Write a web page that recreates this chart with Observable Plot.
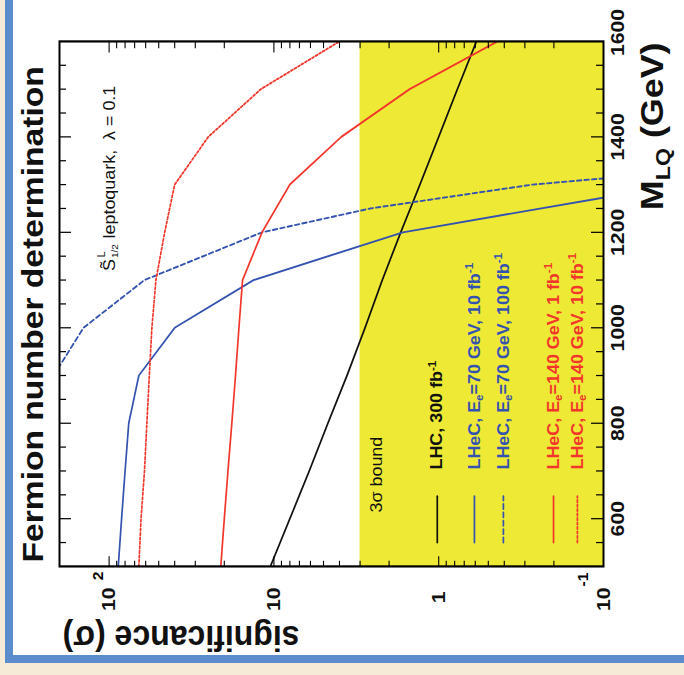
<!DOCTYPE html>
<html><head><meta charset="utf-8">
<script src="https://cdn.jsdelivr.net/npm/d3@7"></script>
<script src="https://cdn.jsdelivr.net/npm/@observablehq/plot@0.6"></script>
<style>
html,body{margin:0;padding:0;width:684px;height:675px;overflow:hidden;background:#f5ebd7;}
#panel{position:absolute;left:5px;top:-20px;width:700px;height:683px;box-sizing:border-box;background:#fff;border-left:8px solid #5b8ccb;border-bottom:8px solid #5b8ccb;}
#chart{position:absolute;left:0;top:0;width:603px;height:684px;transform-origin:0 0;transform:translate(0px,675px) rotate(-90deg) scale(1.1194,1);}
</style></head><body>
<div id="panel"></div>
<div id="chart"></div>
<script>
// ---- data (M_LQ in GeV, significance in sigma) ----
const massLHC   = [500, 600, 700, 800, 900, 1000, 1100, 1200, 1300, 1400, 1500, 1600];
const sigLHC    = [10.5, 8.0, 6.1, 4.7, 3.6, 2.8, 2.2, 1.7, 1.3, 1.0, 0.77, 0.59];
const massE70L10  = [500, 600, 700, 800, 900, 1000, 1100, 1200, 1300];
const sigE70L10   = [88, 84, 80, 76, 66, 40, 13.3, 1.65, 0.035];
const massE70L100 = [900, 1000, 1100, 1200, 1250, 1300, 1325];
const sigE70L100  = [217, 143, 61, 11.8, 2.6, 0.27, 0.04];
const massE140L1  = [500, 600, 700, 800, 900, 1000, 1100, 1200, 1300, 1400, 1500, 1600];
const sigE140L1   = [21, 20, 19, 18, 17.1, 16.3, 15.5, 11.8, 8.0, 3.9, 1.5, 0.44];
const massE140L10 = [500, 600, 700, 800, 900, 1000, 1100, 1200, 1300, 1400, 1500, 1600];
const sigE140L10  = [66, 64, 61, 59, 57, 55, 52, 46, 40, 25, 12, 4.0];
const bound = 3; // 3 sigma bound
const seriesLabels = ["LHC, 300 fb^{-1}", "LHeC, E_{e}=70 GeV, 10 fb^{-1}", "LHeC, E_{e}=70 GeV, 100 fb^{-1}",
                      "LHeC, E_{e}=140 GeV, 1 fb^{-1}", "LHeC, E_{e}=140 GeV, 10 fb^{-1}"];
const xTickLabels = [600, 800, 1000, 1200, 1400, 1600];
const yTickValues = [100, 10, 1, 0.1];

// ---- styles / layout ----
const black = "#111", blue = "#3452b0", red = "#f2362c", yellow = "#ede935";
const styles = [
  {stroke: black, dash: null}, {stroke: blue, dash: null}, {stroke: blue, dash: "4.5,3"},
  {stroke: red, dash: null}, {stroke: red, dash: "2,2"}
];
const masses = [massLHC, massE70L10, massE70L100, massE140L1, massE140L10];
const sigs = [sigLHC, sigE70L10, sigE70L100, sigE140L1, sigE140L10];
const legendY = [1.02, 0.607, 0.405, 0.201, 0.144];

const W = 603, H = 684, mL = 96.5, mR = 37.5, mT = 59, mB = 81;
const fw = W - mL - mR, fh = H - mT - mB;
const font = "'Liberation Sans', Arial, Helvetica, sans-serif";

const marks = [];
marks.push(Plot.rect([bound], {x1: () => 500, x2: () => 1600, y1: () => 0.1, y2: d => d, fill: yellow}));
masses.forEach((ms, k) => {
  const rows = ms.map((m, i) => ({M: m, s: sigs[k][i]}));
  marks.push(Plot.line(rows, {x: "M", y: "s", stroke: styles[k].stroke, strokeWidth: 1.7,
    strokeDasharray: styles[k].dash, clip: true}));
  marks.push(Plot.line([{M: 550, s: legendY[k]}, {M: 647, s: legendY[k]}], {x: "M", y: "s",
    stroke: styles[k].stroke, strokeWidth: 1.7, strokeDasharray: styles[k].dash}));
  marks.push(Plot.text([seriesLabels[k]], {x: () => 703, y: () => legendY[k], text: d => d,
    textAnchor: "start", lineAnchor: "middle", fill: styles[k].stroke, fontSize: 16, fontWeight: "bold"}));
});
marks.push(Plot.text(["3σ bound"], {x: () => 613, y: () => 2.37, text: d => d, textAnchor: "start",
  lineAnchor: "middle", fontSize: 16, fill: "#111"}));

// frame ticks (inward, on all four sides)
const xMinor = d3.range(550, 1600, 50).filter(m => m % 200 !== 0);
const xMajor = [600, 800, 1000, 1200, 1400];
const yMinor = [0.2,0.3,0.4,0.5,0.6,0.7,0.8,0.9,2,3,4,5,6,7,8,9,20,30,40,50,60,70,80,90];
const yMajor = [1, 10, 100];
const tk = {stroke: "black", strokeWidth: 1.1};
marks.push(Plot.tickX(xMinor, {x: d => d, insetTop: fh - 7, ...tk}));
marks.push(Plot.tickX(xMinor, {x: d => d, insetBottom: fh - 7, ...tk}));
marks.push(Plot.tickX(xMajor, {x: d => d, insetTop: fh - 12, ...tk}));
marks.push(Plot.tickX(xMajor, {x: d => d, insetBottom: fh - 12, ...tk}));
marks.push(Plot.tickY(yMinor, {y: d => d, insetRight: fw - 5.5, ...tk}));
marks.push(Plot.tickY(yMinor, {y: d => d, insetLeft: fw - 5.5, ...tk}));
marks.push(Plot.tickY(yMajor, {y: d => d, insetRight: fw - 9.5, ...tk}));
marks.push(Plot.tickY(yMajor, {y: d => d, insetLeft: fw - 9.5, ...tk}));
marks.push(Plot.frame({stroke: "black", strokeWidth: 2}));

// tick labels
const lab = {fontSize: 19, fontWeight: "bold", fill: "#111"};
marks.push(Plot.text(xTickLabels.filter(v => v < 1600), {x: d => d, text: d => String(d), frameAnchor: "bottom", lineAnchor: "top", dy: 7, ...lab}));
marks.push(Plot.text(xTickLabels.filter(v => v === 1600), {x: d => d, text: d => String(d), frameAnchor: "bottom", lineAnchor: "top", dy: 7, dx: 8, ...lab}));
marks.push(Plot.text(yTickValues.filter(v => v !== 1), {y: d => d, text: () => "10", frameAnchor: "left", textAnchor: "end", lineAnchor: "middle", dx: -18.8, ...lab}));
marks.push(Plot.text(yTickValues.filter(v => v === 1), {y: d => d, text: () => "1", frameAnchor: "left", textAnchor: "end", lineAnchor: "middle", dx: -22.3, ...lab}));
marks.push(Plot.text(yTickValues.filter(v => v === 100), {y: d => d, text: () => "2", frameAnchor: "left", textAnchor: "end", lineAnchor: "middle", dx: -4.5, dy: -11, fontSize: 14, fontWeight: "bold"}));
marks.push(Plot.text(yTickValues.filter(v => v === 0.1), {y: d => d, text: () => "-1", frameAnchor: "left", textAnchor: "end", lineAnchor: "middle", dx: -5.4, dy: -20, fontSize: 14, fontWeight: "bold"}));

// titles
marks.push(Plot.text(["Fermion number determination"], {text: d => d, frameAnchor: "top-left", textAnchor: "start", lineAnchor: "bottom", dx: 3.6, dy: -17, fontSize: 30, fontWeight: "bold", fill: "#111"}));
marks.push(Plot.text(["significance (σ)"], {text: d => d, frameAnchor: "top-left", rotate: -90, textAnchor: "end", lineAnchor: "bottom", dx: -53.6, dy: 3, fontSize: 32, fontWeight: "bold", fill: "#111"}));
marks.push(Plot.text(["M_{LQ} (GeV)"], {text: d => d, frameAnchor: "bottom-right", textAnchor: "end", lineAnchor: "bottom", dx: -1, dy: 59, fontSize: 32, fontWeight: "bold", fill: "#111"}));

// annotation
marks.push(Plot.text(["S\u0303"], {text: d => d, frameAnchor: "top-left", textAnchor: "start", lineAnchor: "bottom", dx: 264, dy: 55, fontSize: 16, fill: "#111"}));
marks.push(Plot.text(["L"], {text: d => d, frameAnchor: "top-left", textAnchor: "start", lineAnchor: "bottom", dx: 276, dy: 45, fontSize: 10, fill: "#111"}));
marks.push(Plot.text(["1/2"], {text: d => d, frameAnchor: "top-left", textAnchor: "start", lineAnchor: "bottom", dx: 275.5, dy: 58, fontSize: 9, fill: "#111"}));
marks.push(Plot.text(["leptoquark,\u00a0\u00a0λ = 0.1"], {text: d => d, frameAnchor: "top-left", textAnchor: "start", lineAnchor: "bottom", dx: 293, dy: 55, fontSize: 16, fill: "#111"}));

const chart = Plot.plot({
  width: W, height: H, marginLeft: mL, marginRight: mR, marginTop: mT, marginBottom: mB,
  style: {background: "transparent", fontFamily: font, overflow: "visible"},
  x: {domain: [500, 1600], axis: null},
  y: {type: "log", domain: [0.1, 200], axis: null},
  marks
});

// rich text: _{...} subscripts and ^{...} superscripts
function richify(svg) {
  const NS = "http://www.w3.org/2000/svg";
  svg.querySelectorAll("text").forEach(t => {
    const s = t.textContent;
    if (!/[_^]\{/.test(s)) return;
    t.textContent = "";
    const re = /([_^])\{([^}]*)\}/g;
    let last = 0, m, restore = null;
    const add = (str, kind) => {
      if (!str) return;
      const ts = document.createElementNS(NS, "tspan");
      ts.textContent = str;
      if (kind === "^") { ts.setAttribute("font-size", "65%"); ts.setAttribute("dy", "-0.6em"); restore = "0.39em"; }
      else if (kind === "_") { ts.setAttribute("font-size", "65%"); ts.setAttribute("dy", "0.35em"); restore = "-0.2275em"; }
      else if (restore) { ts.setAttribute("dy", restore); restore = null; }
      t.appendChild(ts);
    };
    while ((m = re.exec(s))) { add(s.slice(last, m.index), null); add(m[2], m[1]); last = re.lastIndex; }
    add(s.slice(last), null);
  });
}
richify(chart);
document.getElementById("chart").appendChild(chart);
</script></body></html>
